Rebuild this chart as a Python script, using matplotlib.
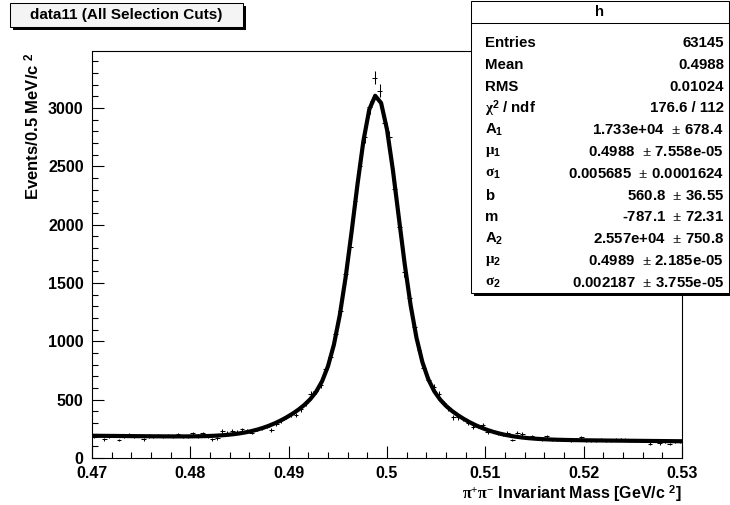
#!/usr/bin/env python3

"""K-short mass peak with double gaussian + linear background fit"""

import numpy as np
import matplotlib as mpl

mpl.use("Agg")
from matplotlib import pyplot as plt
from matplotlib.patches import Rectangle
from matplotlib.lines import Line2D
from matplotlib.ticker import MultipleLocator, FuncFormatter

# histogram: 120 bins of 0.5 MeV from 0.47 to 0.53 GeV
x_min = 0.47
bin_width = 0.0005
counts = [
    182, 190, 162, 188, 192, 154, 186, 197, 184, 195,
    160, 188, 183, 190, 186, 192, 184, 204, 186, 181,
    211, 188, 211, 186, 160, 168, 233, 216, 232, 225,
    245, 233, 218, 244, 258, 270, 240, 295, 322, 350,
    375, 367, 417, 470, 550, 573, 626, 765, 862, 1065,
    1262, 1580, 1808, 2203, 2505, 2752, 3008, 3262, 3148, 2875,
    2752, 2310, 1978, 1592, 1368, 1122, 930, 775, 665, 608,
    553, 470, 425, 348, 348, 335, 302, 263, 270, 282,
    222, 228, 215, 200, 214, 154, 218, 206, 172, 186,
    166, 160, 186, 158, 155, 161, 154, 150, 155, 179,
    148, 152, 150, 155, 148, 152, 160, 162, 158, 147,
    145, 148, 145, 122, 146, 125, 143, 119, 142, 140,
]

# fit parameters from the stats box
A1, mu1, sigma1 = 1.733e4, 0.4988, 0.005685
b, m = 560.8, -787.1
A2, mu2, sigma2 = 2.557e4, 0.4989, 0.002187

stat_labels = [
    "Entries", "Mean", "RMS", r"$\mathrm{\chi}^{\mathbf{2}}$ / ndf",
    r"A$_{\mathbf{1}}$", r"$\mathrm{\mu}_{\mathbf{1}}$", r"$\mathrm{\sigma}_{\mathbf{1}}$",
    "b", "m",
    r"A$_{\mathbf{2}}$", r"$\mathrm{\mu}_{\mathbf{2}}$", r"$\mathrm{\sigma}_{\mathbf{2}}$",
]
stat_values = [
    "63145", "0.4988", "0.01024", "176.6 / 112",
    r"1.733e+04  $\pm$ 678.4", r"0.4988  $\pm$ 7.558e-05", r"0.005685  $\pm$ 0.0001624",
    r"560.8  $\pm$ 36.55", r"-787.1  $\pm$ 72.31",
    r"2.557e+04  $\pm$ 750.8", r"0.4989  $\pm$ 2.185e-05", r"0.002187  $\pm$ 3.755e-05",
]

plt.rcParams["font.family"] = ["Liberation Sans", "DejaVu Sans"]
plt.rcParams["font.weight"] = "bold"
plt.rcParams["mathtext.fontset"] = "custom"
plt.rcParams["mathtext.rm"] = "Liberation Serif"
plt.rcParams["mathtext.it"] = "Liberation Serif:italic"
plt.rcParams["mathtext.bf"] = "Liberation Sans:bold"


def fit_model(x):
    norm = 1.0 / np.sqrt(2 * np.pi)
    g1 = A1 * norm / sigma1 * np.exp(-0.5 * ((x - mu1) / sigma1) ** 2)
    g2 = A2 * norm / sigma2 * np.exp(-0.5 * ((x - mu2) / sigma2) ** 2)
    return bin_width * (g1 + g2) + b + m * x


W, H = 730, 505


def fx(px):
    return px / W


def fy(py):
    return 1 - py / H


def fig_rect(fig, x0, y0, x1, y1, **kw):
    r = Rectangle((fx(x0), fy(y1)), (x1 - x0) / W, (y1 - y0) / H,
                  transform=fig.transFigure, **kw)
    fig.add_artist(r)
    return r


fig = plt.figure(figsize=(W / 100, H / 100), dpi=100)
ax = fig.add_axes([fx(92), fy(458), 590 / W, 407 / H])

n = np.array(counts, dtype=float)
centers = x_min + bin_width * (np.arange(len(n)) + 0.5)
ax.errorbar(centers, n, xerr=bin_width / 2, yerr=np.sqrt(n), fmt="none",
            ecolor="black", elinewidth=0.75, capsize=0)

xf = np.linspace(x_min, x_min + bin_width * len(n), 101)
ax.plot(xf, fit_model(xf), color="black", lw=3)

ax.set_xlim(x_min, x_min + bin_width * len(n))
ax.set_ylim(0, 3490)
ax.xaxis.set_major_locator(MultipleLocator(0.01))
ax.xaxis.set_minor_locator(MultipleLocator(0.002))
ax.yaxis.set_major_locator(MultipleLocator(500))
ax.yaxis.set_minor_locator(MultipleLocator(100))
ax.xaxis.set_major_formatter(FuncFormatter(lambda v, p: f"{v:.2f}".rstrip("0")))
ax.yaxis.set_major_formatter(FuncFormatter(lambda v, p: f"{v:.0f}"))
ax.tick_params(which="both", direction="in", top=False, right=False, width=0.8)
ax.tick_params(which="major", length=8.5, labelsize=11.5)
ax.tick_params(axis="x", which="major", pad=5.5)
ax.tick_params(axis="y", which="major", pad=6)
ax.tick_params(which="minor", length=4.3)
for s in ax.spines.values():
    s.set_linewidth(0.8)

fig.text(fx(33), fy(52), r"Events/0.5 MeV/c $^{\mathbf{2}}$", rotation=90,
         ha="center", va="top", fontsize=12)
fig.text(fx(682), fy(493), r"$\mathrm{\pi^{+}\pi^{-}}$ Invariant Mass [GeV/c $^{\mathbf{2}}$]",
         ha="right", va="center", fontsize=11.5)

# title box
fig_rect(fig, 13, 6, 246, 30, facecolor="black", edgecolor="none")
fig_rect(fig, 10, 3, 243, 27, facecolor="#f4f4f4", edgecolor="black", lw=0.75)
fig.text(fx(126.5), fy(15), "data11 (All Selection Cuts)", ha="center", va="center",
         fontsize=11)

# stats box
fig_rect(fig, 474, 4, 732, 296, facecolor="black", edgecolor="none")
fig_rect(fig, 471, 1, 729, 293, facecolor="white", edgecolor="black", lw=0.75)
fig.add_artist(Line2D([fx(471), fx(729)], [fy(23), fy(23)], transform=fig.transFigure,
                      color="black", lw=0.75))
fig.text(fx(600), fy(12), "h", ha="center", va="center", fontsize=10.8)
for i, (lab, val) in enumerate(zip(stat_labels, stat_values)):
    y = 43 + 21.8 * i
    fig.text(fx(485), fy(y), lab, ha="left", va="center", fontsize=10.8)
    fig.text(fx(724), fy(y), val, ha="right", va="center", fontsize=10.8)

fig.savefig("out.png", dpi=100)
